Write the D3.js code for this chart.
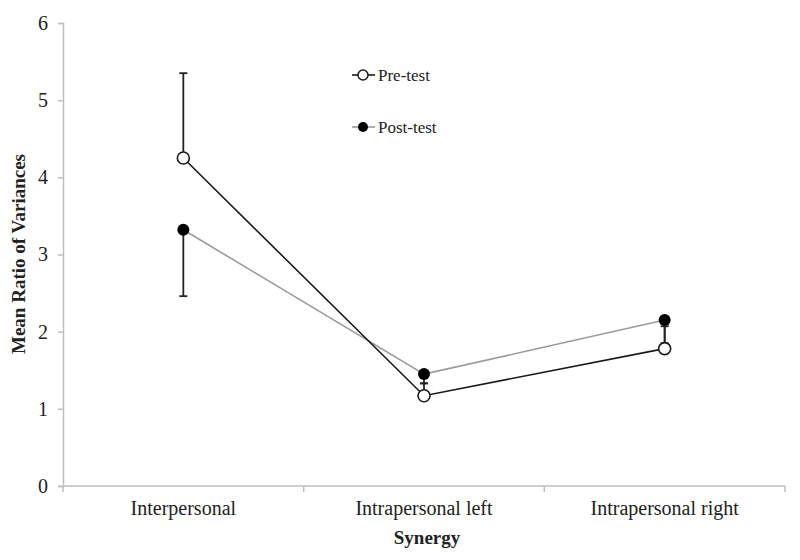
<!DOCTYPE html>
<html lang="en">
<head>
<meta charset="utf-8">
<title>Mean ratio of variances</title>
<script src="https://d3js.org/d3.v7.min.js"></script>
<style>
body { margin: 0; background: #fff; }
text { font-family: "Liberation Serif", "Times New Roman", serif; fill: #222; }
.axis path, .axis line { stroke: #bdbdbd; stroke-width: 1.5; }
</style>
</head>
<body>
<div id="container"></div>
<script>
// data
var categories = ["Interpersonal", "Intrapersonal left", "Intrapersonal right"];
var preTest = [4.25, 1.17, 1.78];
var postTest = [3.32, 1.45, 2.15];
var preErrTop = [5.35, 1.33, 2.07];   // pre-test bars point up
var postErrBottom = [2.46, 1.33, 1.85]; // post-test bars point down
var yTicks = [0, 1, 2, 3, 4, 5, 6];

var w = 800, h = 560;
var margin = {left: 63, right: 15, top: 23, bottom: 74};

var svg = d3.select("#container").append("svg")
    .attr("width", w).attr("height", h);

var x = d3.scaleBand().domain(categories)
    .range([margin.left, w - margin.right]);
var y = d3.scaleLinear().domain([0, 6])
    .range([h - margin.bottom, margin.top]);
var cx = function(i) { return x(categories[i]) + x.bandwidth() / 2; };

// y axis
var yAxis = svg.append("g").attr("class", "axis")
    .attr("transform", "translate(" + margin.left + ",0)")
    .call(d3.axisLeft(y).tickValues(yTicks).tickFormat(d3.format("d"))
      .tickSize(5).tickSizeOuter(5).tickPadding(10));
yAxis.selectAll("text").style("font-size", "20px").attr("fill", "#222");

// x axis with ticks at the band boundaries
var xAxis = svg.append("g").attr("class", "axis")
    .attr("transform", "translate(0," + y(0) + ")");
xAxis.append("line")
    .attr("x1", margin.left).attr("x2", w - margin.right);
var bounds = categories.map(function(c) { return x(c); }).concat([w - margin.right]);
xAxis.selectAll(".tk").data(bounds).enter().append("line")
    .attr("x1", function(d) { return d; }).attr("x2", function(d) { return d; })
    .attr("y1", 0).attr("y2", 6);
xAxis.selectAll(".lbl").data(categories).enter().append("text")
    .attr("x", function(d, i) { return cx(i); })
    .attr("y", 29)
    .attr("text-anchor", "middle")
    .style("font-size", "20px")
    .text(function(d) { return d; });

// axis titles
svg.append("text")
    .attr("x", (margin.left + w - margin.right) / 2 + 3).attr("y", 544)
    .attr("text-anchor", "middle")
    .style("font-size", "19px").style("font-weight", "bold")
    .text("Synergy");
svg.append("text")
    .attr("transform", "translate(25," + 254 + ") rotate(-90)")
    .attr("text-anchor", "middle")
    .style("font-size", "19px").style("font-weight", "bold")
    .text("Mean Ratio of Variances");

// error bars
function errBars(vals, ends) {
  var g = svg.append("g").attr("stroke", "#222").attr("stroke-width", 1.8);
  vals.forEach(function(v, i) {
    g.append("line").attr("x1", cx(i)).attr("x2", cx(i))
      .attr("y1", y(v)).attr("y2", y(ends[i]));
    g.append("line").attr("x1", cx(i) - 4).attr("x2", cx(i) + 4)
      .attr("y1", y(ends[i])).attr("y2", y(ends[i]));
  });
}
errBars(preTest, preErrTop);
errBars(postTest, postErrBottom);

var line = d3.line()
    .x(function(d, i) { return cx(i); })
    .y(function(d) { return y(d); });

svg.append("path").datum(postTest)
    .attr("d", line).attr("fill", "none")
    .attr("stroke", "#9a9a9a").attr("stroke-width", 1.6);
svg.append("path").datum(preTest)
    .attr("d", line).attr("fill", "none")
    .attr("stroke", "#1a1a1a").attr("stroke-width", 1.6);

svg.selectAll(".post").data(postTest).enter().append("circle")
    .attr("cx", function(d, i) { return cx(i); })
    .attr("cy", function(d) { return y(d); })
    .attr("r", 6).attr("fill", "#000");
svg.selectAll(".pre").data(preTest).enter().append("circle")
    .attr("cx", function(d, i) { return cx(i); })
    .attr("cy", function(d) { return y(d); })
    .attr("r", 6).attr("fill", "#fff")
    .attr("stroke", "#1a1a1a").attr("stroke-width", 1.6);

// legend
var legend = [
  {name: "Pre-test", stroke: "#1a1a1a", fill: "#fff", y: 75},
  {name: "Post-test", stroke: "#9a9a9a", fill: "#000", y: 127}
];
var lg = svg.selectAll(".lg").data(legend).enter().append("g");
lg.append("line")
    .attr("x1", 352).attr("x2", 375)
    .attr("y1", function(d) { return d.y; }).attr("y2", function(d) { return d.y; })
    .attr("stroke", function(d) { return d.stroke; }).attr("stroke-width", 1.6);
lg.append("circle")
    .attr("cx", 363).attr("cy", function(d) { return d.y; }).attr("r", 5)
    .attr("fill", function(d) { return d.fill; })
    .attr("stroke", function(d) { return d.fill === "#fff" ? "#1a1a1a" : "none"; })
    .attr("stroke-width", 1.5);
lg.append("text")
    .attr("x", 378).attr("y", function(d) { return d.y + 6; })
    .style("font-size", "17px")
    .text(function(d) { return d.name; });
</script>
</body>
</html>
